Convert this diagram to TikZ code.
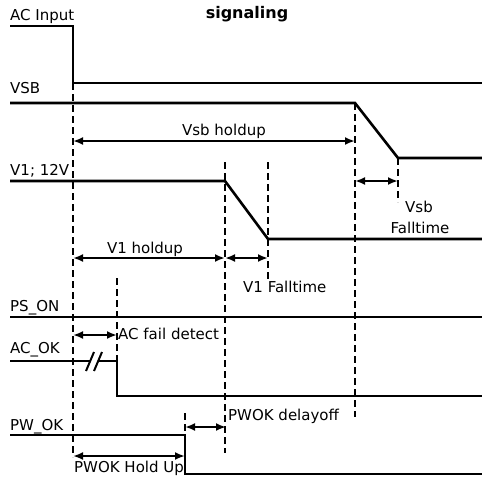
\documentclass[tikz,border=0pt]{standalone}
\usepackage{fontspec}
\setmainfont{DejaVu Sans}
\usetikzlibrary{arrows.meta}

\begin{document}
\begin{tikzpicture}[x=1pt, y=-1pt,
    sigline/.style={line width=2.6pt},
    marker/.style={line width=1.5pt, dash pattern=on 7pt off 4pt},
    span/.style={line width=2pt, {Latex[length=10pt,width=8pt]}-{Latex[length=10pt,width=8pt]}},
    lbl/.style={font=\fontsize{15}{17}\selectfont, inner sep=0pt, anchor=base west},
    lblc/.style={lbl, anchor=base}]
    \useasboundingbox (0,0) rectangle (482,477);

    % title
    \node[font=\fontsize{16}{18}\selectfont\bfseries, inner sep=0pt, anchor=base] (title) at (247,18) {signaling};

    % event times
    \coordinate (acoff) at (73,83);
    \coordinate (acok) at (117,361);
    \coordinate (pwok) at (185,435);
    \coordinate (vone) at (225,181);
    \coordinate (voneend) at (268,239);
    \coordinate (vsb) at (355,103);
    \coordinate (vsbend) at (398,158);

    % signal names
    \node[lbl] (nacin) at (10,20) {AC Input};
    \node[lbl] (nvsb) at (10,93) {VSB};
    \node[lbl] (nvone) at (10,175) {V1; 12V};
    \node[lbl] (npson) at (10,311) {PS\_ON};
    \node[lbl] (nacok) at (10,353) {AC\_OK};
    \node[lbl] (npwok) at (10,430) {PW\_OK};

    % waveforms
    \draw[sigline] (10,26) -- (73,26) -- (acoff) -- (482,83);
    \draw[sigline] (10,103) -- (vsb) -- (vsbend) -- (482,158);
    \draw[sigline] (10,181) -- (vone) -- (voneend) -- (482,239);
    \draw[sigline] (10,317) -- (482,317);
    \draw[sigline] (10,361) -- (91,361);
    \draw[sigline] (99,361) -- (acok) -- (117,396) -- (482,396);
    \draw[line width=2pt] (86,371) -- (94,352) (94,371) -- (102,352);
    \draw[sigline] (10,435) -- (pwok) -- (185,474) -- (482,474);

    % time markers
    \draw[marker] (acoff) -- (73,457);
    \draw[marker] (117,278) -- (acok);
    \draw[marker] (185,413) -- (pwok);
    \draw[marker] (225,162) -- (225,453);
    \draw[marker] (268,162) -- (268,279);
    \draw[marker] (vsb) -- (355,417);
    \draw[marker] (vsbend) -- (398,202);

    % durations
    \coordinate (a1) at (73,141); \coordinate (b1) at (355,141);
    \coordinate (a2) at (355,181); \coordinate (b2) at (398,181);
    \coordinate (a3) at (73,258); \coordinate (b3) at (225,258);
    \coordinate (a4) at (268,258);
    \coordinate (a5) at (73,335); \coordinate (b5) at (117,335);
    \coordinate (a6) at (185,427); \coordinate (b6) at (226,427);
    \coordinate (a7) at (73,456); \coordinate (b7) at (185,456);
    \draw[span] (a1) -- (b1);
    \draw[span] (a2) -- (b2);
    \draw[span] (a3) -- (b3);
    \draw[span] (b3) -- (a4);
    \draw[span] (a5) -- (b5);
    \draw[span] (a6) -- (b6);
    \draw[span] (a7) -- (b7);

    \node[lblc] (tvsbhold) at (224,135) {Vsb holdup};
    \node[lblc] (tvsbfall) at (419,212) {Vsb};
    \node[lblc] (tvsbfall2) at (420,233) {Falltime};
    \node[lblc] (tvonehold) at (145,253) {V1 holdup};
    \node[lbl] (tvonefall) at (243,292) {V1 Falltime};
    \node[lbl] (tacfail) at (118,339) {AC fail detect};
    \node[lbl] (tpwdelay) at (228,420) {PWOK delayoff};
    \node[lbl] (tpwhold) at (74,472) {PWOK Hold Up};
\end{tikzpicture}
\end{document}
